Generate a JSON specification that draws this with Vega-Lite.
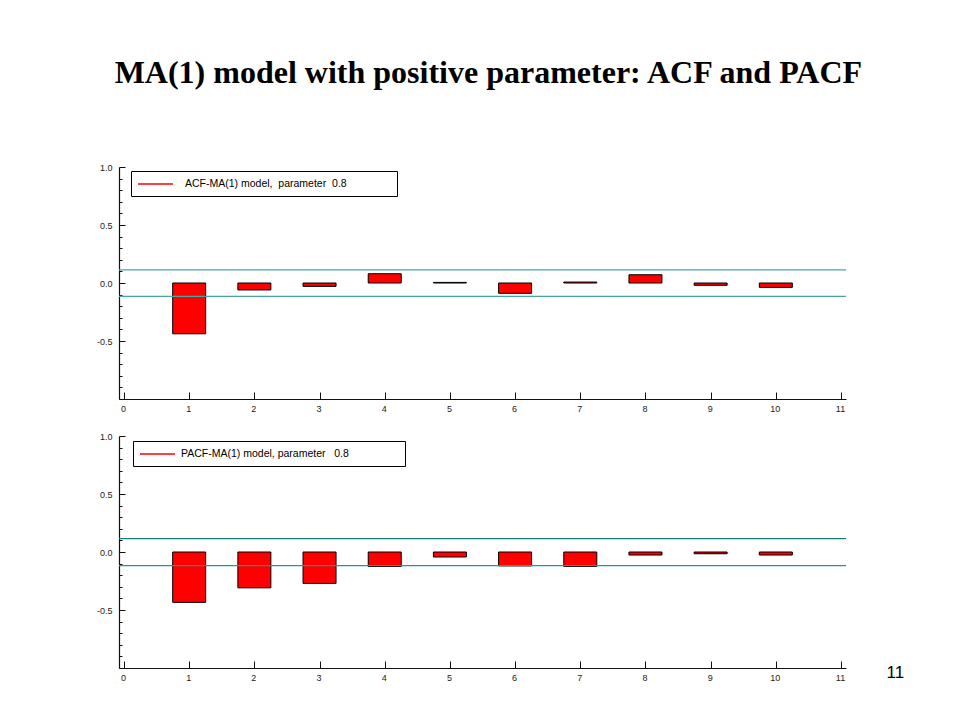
{
  "$schema": "https://vega.github.io/schema/vega-lite/v6.json",
  "background": "white",
  "padding": {"left": 96, "top": 57, "right": 0, "bottom": 0},
  "title": {
    "text": "MA(1) model with positive parameter: ACF and PACF",
    "font": "Liberation Serif",
    "fontSize": 32,
    "fontWeight": "bold",
    "color": "black",
    "anchor": "middle",
    "offset": 73,
    "dx": -12
  },
  "datasets": {
    "acf": [
      {"lag": 1, "value": -0.438, "series": "ACF-MA(1) model, \u00a0parameter \u00a00.8"},
      {"lag": 2, "value": -0.06, "series": "ACF-MA(1) model, \u00a0parameter \u00a00.8"},
      {"lag": 3, "value": -0.029, "series": "ACF-MA(1) model, \u00a0parameter \u00a00.8"},
      {"lag": 4, "value": 0.08, "series": "ACF-MA(1) model, \u00a0parameter \u00a00.8"},
      {"lag": 5, "value": 0.005, "series": "ACF-MA(1) model, \u00a0parameter \u00a00.8"},
      {"lag": 6, "value": -0.089, "series": "ACF-MA(1) model, \u00a0parameter \u00a00.8"},
      {"lag": 7, "value": 0.008, "series": "ACF-MA(1) model, \u00a0parameter \u00a00.8"},
      {"lag": 8, "value": 0.071, "series": "ACF-MA(1) model, \u00a0parameter \u00a00.8"},
      {"lag": 9, "value": -0.02, "series": "ACF-MA(1) model, \u00a0parameter \u00a00.8"},
      {"lag": 10, "value": -0.038, "series": "ACF-MA(1) model, \u00a0parameter \u00a00.8"}
    ],
    "pacf": [
      {"lag": 1, "value": -0.434, "series": "PACF-MA(1) model, parameter \u00a0\u00a00.8"},
      {"lag": 2, "value": -0.309, "series": "PACF-MA(1) model, parameter \u00a0\u00a00.8"},
      {"lag": 3, "value": -0.271, "series": "PACF-MA(1) model, parameter \u00a0\u00a00.8"},
      {"lag": 4, "value": -0.125, "series": "PACF-MA(1) model, parameter \u00a0\u00a00.8"},
      {"lag": 5, "value": -0.043, "series": "PACF-MA(1) model, parameter \u00a0\u00a00.8"},
      {"lag": 6, "value": -0.12, "series": "PACF-MA(1) model, parameter \u00a0\u00a00.8"},
      {"lag": 7, "value": -0.125, "series": "PACF-MA(1) model, parameter \u00a0\u00a00.8"},
      {"lag": 8, "value": -0.026, "series": "PACF-MA(1) model, parameter \u00a0\u00a00.8"},
      {"lag": 9, "value": -0.015, "series": "PACF-MA(1) model, parameter \u00a0\u00a00.8"},
      {"lag": 10, "value": -0.026, "series": "PACF-MA(1) model, parameter \u00a0\u00a00.8"}
    ],
    "bands": [
      {"panel": "ACF", "bound": "upper", "value": 0.114},
      {"panel": "ACF", "bound": "lower", "value": -0.116},
      {"panel": "PACF", "bound": "upper", "value": 0.116},
      {"panel": "PACF", "bound": "lower", "value": -0.117}
    ]
  },
  "bounds": "flush",
  "spacing": 37,
  "resolve": {"scale": {"fill": "independent"}, "legend": {"fill": "independent"}},
  "vconcat": [
    {
      "width": 727,
      "height": 232,
      "layer": [
        {
          "mark": {"type": "rule", "color": "#999999", "strokeWidth": 1.2},
          "encoding": {"y": {"datum": 0, "type": "quantitative", "scale": {"domain": [-1, 1], "nice": false, "zero": false}}}
        },
        {
          "data": {"name": "acf"},
          "mark": {"type": "bar", "orient": "vertical", "width": 33},
          "encoding": {
            "x": {
              "field": "lag", "type": "quantitative",
              "scale": {"domain": [0, 11], "nice": false, "zero": false},
              "axis": {"title": null, "values": [0,1,2,3,4,5,6,7,8,9,10,11], "tickCount": 30, "format": "d", "tickSize": -7, "labelPadding": 12, "labelFlush": false, "labelOverlap": false, "labelOffset": -1}
            },
            "y": {
              "field": "value", "type": "quantitative",
              "scale": {"domain": [-1, 1], "nice": false, "zero": false},
              "axis": {
                "title": null,
                "values": [-1,-0.9,-0.8,-0.7,-0.6,-0.5,-0.4,-0.3,-0.2,-0.1,0,0.1,0.2,0.3,0.4,0.5,0.6,0.7,0.8,0.9,1],
                "tickCount": 40,
                "labelExpr": "(datum.value == 1 || datum.value == 0.5 || datum.value == 0 || datum.value == -0.5) ? replace(format(datum.value, '.1f'), '\u2212', '-') : ''",
                "tickSize": {"condition": {"test": "abs(datum.value*2 - round(datum.value*2)) < 1e-6", "value": -6}, "value": -3},
                "labelPadding": 13,
                "labelOverlap": false,
                "labelFlush": false
              }
            },
            "fill": {
              "field": "series", "type": "nominal",
              "scale": {"range": ["#ff0000"]},
              "legend": {
                "orient": "none", "legendX": 12, "legendY": 4,
                "title": null,
                "strokeColor": "black", "fillColor": "white", "padding": 6,
                "symbolType": "M-1,0H4.833", "symbolSize": 144,
                "symbolStrokeColor": "#ff0000", "symbolFillColor": "transparent", "symbolStrokeWidth": 1.3,
                "labelFont": "Liberation Sans", "labelFontSize": 10.5, "labelColor": "black",
                "labelOffset": 34, "labelLimit": 600,
                "labelExpr": "datum.label + '\u00a0\u00a0\u00a0\u00a0\u00a0\u00a0\u00a0\u00a0\u00a0\u00a0\u00a0\u00a0\u00a0\u00a0\u00a0\u200b'"
              }
            }
          }
        },
        {
          "data": {"name": "acf"},
          "mark": {"type": "bar", "orient": "vertical", "width": 33, "filled": false, "stroke": "black", "strokeWidth": 1},
          "encoding": {
            "x": {"field": "lag", "type": "quantitative"},
            "y": {"field": "value", "type": "quantitative"}
          }
        },
        {
          "data": {"name": "bands"},
          "transform": [{"filter": "datum.panel === 'ACF'"}],
          "mark": {"type": "rule", "color": "#4aa5a5", "strokeWidth": 1.2},
          "encoding": {"y": {"field": "value", "type": "quantitative"}}
        }
      ]
    },
    {
      "width": 727,
      "height": 232,
      "title": {"text": "11", "orient": "right", "anchor": "end", "angle": 0, "font": "Liberation Sans", "fontSize": 17, "fontWeight": "normal", "color": "black", "offset": 40, "dy": -17},
      "layer": [
        {
          "mark": {"type": "rule", "color": "#999999", "strokeWidth": 1.2},
          "encoding": {"y": {"datum": 0, "type": "quantitative", "scale": {"domain": [-1, 1], "nice": false, "zero": false}}}
        },
        {
          "data": {"name": "pacf"},
          "mark": {"type": "bar", "orient": "vertical", "width": 33},
          "encoding": {
            "x": {
              "field": "lag", "type": "quantitative",
              "scale": {"domain": [0, 11], "nice": false, "zero": false},
              "axis": {"title": null, "values": [0,1,2,3,4,5,6,7,8,9,10,11], "tickCount": 30, "format": "d", "tickSize": -7, "labelPadding": 12, "labelFlush": false, "labelOverlap": false, "labelOffset": -1}
            },
            "y": {
              "field": "value", "type": "quantitative",
              "scale": {"domain": [-1, 1], "nice": false, "zero": false},
              "axis": {
                "title": null,
                "values": [-1,-0.9,-0.8,-0.7,-0.6,-0.5,-0.4,-0.3,-0.2,-0.1,0,0.1,0.2,0.3,0.4,0.5,0.6,0.7,0.8,0.9,1],
                "tickCount": 40,
                "labelExpr": "(datum.value == 1 || datum.value == 0.5 || datum.value == 0 || datum.value == -0.5) ? replace(format(datum.value, '.1f'), '\u2212', '-') : ''",
                "tickSize": {"condition": {"test": "abs(datum.value*2 - round(datum.value*2)) < 1e-6", "value": -6}, "value": -3},
                "labelPadding": 13,
                "labelOverlap": false,
                "labelFlush": false
              }
            },
            "fill": {
              "field": "series", "type": "nominal",
              "scale": {"range": ["#ff0000"]},
              "legend": {
                "orient": "none", "legendX": 14, "legendY": 5,
                "title": null,
                "strokeColor": "black", "fillColor": "white", "padding": 6,
                "symbolType": "M-1,0H4.833", "symbolSize": 144,
                "symbolStrokeColor": "#ff0000", "symbolFillColor": "transparent", "symbolStrokeWidth": 1.3,
                "labelFont": "Liberation Sans", "labelFontSize": 10.5, "labelColor": "black",
                "labelOffset": 28, "labelLimit": 600,
                "labelExpr": "datum.label + '\u00a0\u00a0\u00a0\u00a0\u00a0\u00a0\u00a0\u00a0\u00a0\u00a0\u00a0\u00a0\u00a0\u00a0\u00a0\u00a0\u00a0\u200b'"
              }
            }
          }
        },
        {
          "data": {"name": "pacf"},
          "mark": {"type": "bar", "orient": "vertical", "width": 33, "filled": false, "stroke": "black", "strokeWidth": 1},
          "encoding": {
            "x": {"field": "lag", "type": "quantitative"},
            "y": {"field": "value", "type": "quantitative"}
          }
        },
        {
          "data": {"name": "bands"},
          "transform": [{"filter": "datum.panel === 'PACF' && datum.bound === 'upper'"}],
          "mark": {"type": "rule", "color": "#137f7f", "strokeWidth": 1.2},
          "encoding": {"y": {"field": "value", "type": "quantitative"}}
        },
        {
          "data": {"name": "bands"},
          "transform": [{"filter": "datum.panel === 'PACF' && datum.bound === 'lower'"}],
          "mark": {"type": "rule", "color": "#2a9595", "strokeWidth": 1.2},
          "encoding": {"y": {"field": "value", "type": "quantitative"}}
        }
      ]
    }
  ],
  "config": {
    "view": {"stroke": null},
    "axis": {
      "labelFont": "Liberation Sans", "labelFontSize": 9, "labelColor": "#222222",
      "domainColor": "#111111", "domainWidth": 1.2, "tickColor": "#111111", "tickWidth": 1, "grid": false,
      "labelOverlap": false
    },
    "axisY": {"labelOverlap": false, "labelFlush": false}
  }
}
